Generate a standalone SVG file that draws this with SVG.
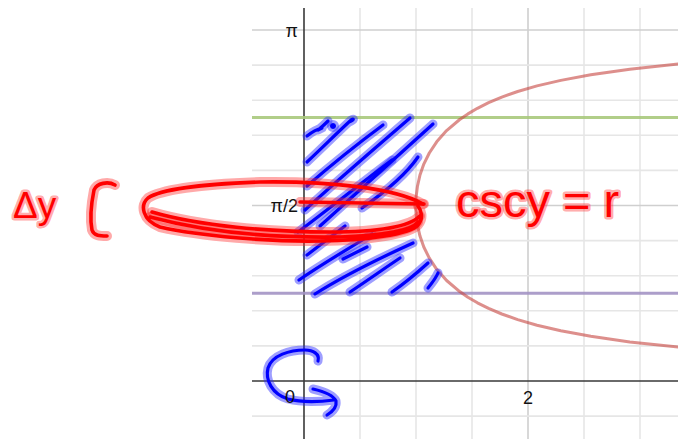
<svg xmlns="http://www.w3.org/2000/svg" width="682" height="439" viewBox="0 0 682 439">
<style>
.minor{stroke:#e6e6e6;stroke-width:1.6;fill:none}
.major{stroke:#cfcfcf;stroke-width:1.6;fill:none}
.axis{stroke:#3a3a3a;stroke-width:1.6;fill:none}
.lbl{font-family:"Liberation Sans",Arial,sans-serif;font-size:18px;fill:#111}
.bh{stroke:rgba(40,40,255,0.45);stroke-width:9;fill:none;stroke-linecap:round;stroke-linejoin:round}
.bc{stroke:#0000ff;stroke-width:3.2;fill:none;stroke-linecap:round;stroke-linejoin:round}
.rh{stroke:rgba(255,40,40,0.4);stroke-width:10;fill:none;stroke-linecap:round;stroke-linejoin:round}
.rc{stroke:#ff0000;stroke-width:3.6;fill:none;stroke-linecap:round;stroke-linejoin:round}
.rtxt{font-family:"Liberation Sans",Arial,sans-serif;fill:#ff0000;stroke:rgba(255,40,40,0.4);stroke-width:5;stroke-linejoin:round;paint-order:stroke}
</style>
<defs>
<clipPath id="plot"><rect x="252" y="8" width="426" height="431"/></clipPath>
</defs>
<rect width="682" height="439" fill="#ffffff"/>
<g id="grid" clip-path="url(#plot)">
<path class="minor" d="M360,8V439M416,8V439M472,8V439M584,8V439M640,8V439"/>
<path class="major" d="M528,8V439"/>
<path class="minor" d="M252,65.1H678M252,100.2H678M252,135.3H678M252,170.4H678M252,240.6H678M252,275.7H678M252,310.8H678M252,345.9H678M252,416.1H678"/>
<path class="major" d="M252,30H678M252,205.5H678"/>
<path class="axis" d="M304,8V439M252,381H678"/>
</g>
<g id="bounds" clip-path="url(#plot)">
<path d="M252,117.5H678" stroke="#a9c97c" stroke-width="3" stroke-opacity="0.9" fill="none"/>
<path d="M252,293.3H678" stroke="#a394c4" stroke-width="3" stroke-opacity="0.9" fill="none"/>
</g>
<g id="curve" clip-path="url(#plot)">
<polyline fill="none" stroke="#c74440" stroke-opacity="0.6" stroke-width="3" stroke-linejoin="round" points="682,63.6 629.8,69.2 590.8,74.8 560.8,80.4 537.0,85.9 517.7,91.5 501.8,97.1 488.6,102.7 477.4,108.3 467.9,113.9 459.7,119.5 446.6,130.6 436.7,141.8 429.3,153.0 423.8,164.1 419.9,175.3 417.4,186.5 416.0,197.7 415.7,205.5 416.0,213.4 417.4,224.6 419.9,235.8 423.8,247.0 429.3,258.1 436.7,269.3 446.6,280.5 459.7,291.6 467.9,297.2 477.4,302.8 488.6,308.4 501.8,314.0 517.7,319.6 537.0,325.2 560.8,330.7 590.8,336.3 629.8,341.9 682,347.5"/>
</g>
<g id="hatching">
<g class="bh">
<path d="M307,136 C312,132 318,129 322,128 L318,130 C322,127 325,124 328,121"/>
<path d="M307,162 C322,148 338,132 350,121 C353,118 356,119 349,122"/>
<path d="M307,186 C330,166 360,142 383,125"/>
<path d="M305,210 C340,178 380,144 410,118"/>
<path d="M320,226 C360,190 400,154 433,124"/>
<path d="M362,208 C385,192 405,176 418,157"/>
<path d="M298,232 C330,208 360,184 392,160"/>
<path d="M307,255 L345,226"/>
<path d="M299,280 C325,262 350,248 372,234"/>
<path d="M343,259 L367,247"/>
<path d="M315,294 C345,275 380,258 413,243"/>
<path d="M350,292 C368,280 385,268 400,258"/>
<path d="M392,292 C405,283 418,272 428,263"/>
<path d="M428,288 C432,283 436,278 438,273"/>
<circle cx="333" cy="126" r="1.5"/>
</g>
<g class="bc">
<path d="M307,136 C312,132 318,129 322,128 L318,130 C322,127 325,124 328,121"/>
<path d="M307,162 C322,148 338,132 350,121 C353,118 356,119 349,122"/>
<path d="M307,186 C330,166 360,142 383,125"/>
<path d="M305,210 C340,178 380,144 410,118"/>
<path d="M320,226 C360,190 400,154 433,124"/>
<path d="M362,208 C385,192 405,176 418,157"/>
<path d="M298,232 C330,208 360,184 392,160"/>
<path d="M307,255 L345,226"/>
<path d="M299,280 C325,262 350,248 372,234"/>
<path d="M343,259 L367,247"/>
<path d="M315,294 C345,275 380,258 413,243"/>
<path d="M350,292 C368,280 385,268 400,258"/>
<path d="M392,292 C405,283 418,272 428,263"/>
<path d="M428,288 C432,283 436,278 438,273"/>
</g>
<circle cx="333" cy="126" r="3" fill="#0000ff"/>
</g>
<g id="rotation">
<path class="bh" d="M318,361 C320,354 313,350 305,350 C290,350 272,355 268,368 C265,380 272,394 288,399 C300,402 318,402 334,400 M313,389 C322,391 333,395 336,401 C337,407 332,412 327,415"/>
<path class="bc" d="M318,361 C320,354 313,350 305,350 C290,350 272,355 268,368 C265,380 272,394 288,399 C300,402 318,402 334,400 M313,389 C322,391 333,395 336,401 C337,407 332,412 327,415"/>
</g>
<g id="labels">
<text class="lbl" x="298" y="37" text-anchor="end">π</text>
<text class="lbl" x="298" y="212" text-anchor="end">π/2</text>
<text class="lbl" x="290" y="403" text-anchor="middle">0</text>
<text class="lbl" x="528" y="404" text-anchor="middle">2</text>
</g>
<g id="disk">
<g class="rh">
<path d="M423,204 C395,188 330,181 260,182 C200,184 160,190 148,198 C140,205 142,220 160,227 C200,236 270,242 320,241 C370,240 410,234 418,225 C424,218 421,210 418,206"/>
<path d="M300,202 L424,204"/>
<path d="M152,212 C200,226 270,232 330,232 C380,232 410,226 420,216"/>
<path d="M150,217 C210,233 280,238 340,237 C385,236 412,230 418,222"/>
</g>
<g class="rc">
<path d="M423,204 C395,188 330,181 260,182 C200,184 160,190 148,198 C140,205 142,220 160,227 C200,236 270,242 320,241 C370,240 410,234 418,225 C424,218 421,210 418,206"/>
<path d="M300,202 L424,204"/>
<path d="M152,212 C200,226 270,232 330,232 C380,232 410,226 420,216"/>
<path d="M150,217 C210,233 280,238 340,237 C385,236 412,230 418,222"/>
</g>
</g>
<g id="dy">
<text class="rtxt" x="13" y="218" font-size="37">Δy</text>
<path class="rh" d="M115,185 C108,181 97,183 94,190 C91,205 90,220 92,230 C94,236 100,236 107,236"/>
<path class="rc" d="M115,185 C108,181 97,183 94,190 C91,205 90,220 92,230 C94,236 100,236 107,236"/>
</g>
<g id="equation">
<text class="rtxt" x="456" y="217" font-size="47">cscy = r</text>
</g>
</svg>
